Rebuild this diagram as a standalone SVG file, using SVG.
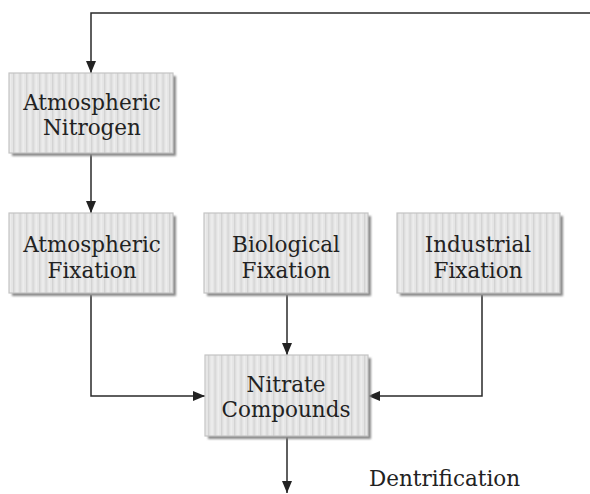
<svg xmlns="http://www.w3.org/2000/svg" width="590" height="494" viewBox="0 0 590 494">
<defs>
<pattern id="stripes" x="0" y="0" width="6.5" height="10" patternUnits="userSpaceOnUse">
<rect width="6.5" height="10" fill="#e5e5e5"/>
<rect x="0" width="1.3" height="10" fill="#d3d3d3"/>
<rect x="3.2" width="1.5" height="10" fill="#eeeeee"/>
</pattern>
<filter id="blur" x="-10%" y="-10%" width="120%" height="120%"><feGaussianBlur stdDeviation="1"/></filter>
<marker id="arr" viewBox="0 0 12 10" refX="12" refY="5" markerWidth="12" markerHeight="10" markerUnits="userSpaceOnUse" orient="auto">
<path d="M0,0 L12,5 L0,10 Z" fill="#222"/>
</marker>
</defs>
<style>
.shadow{fill:#8a8a8a;filter:url(#blur)}
.box{fill:url(#stripes);stroke:#c4c4c4;stroke-width:1.2}
.lbl{font-family:"DejaVu Serif",serif;font-size:21.5px;fill:#222;text-anchor:middle}
.conn{fill:none;stroke:#2a2a2a;stroke-width:1.5}
</style>
<rect width="590" height="494" fill="#fff"/>
<g id="connectors">
<path class="conn" d="M590,13 H91 V73" marker-end="url(#arr)"/>
<path class="conn" d="M91,153 V213" marker-end="url(#arr)"/>
<path class="conn" d="M91,295 V396 H205" marker-end="url(#arr)"/>
<path class="conn" d="M287,295 V355" marker-end="url(#arr)"/>
<path class="conn" d="M482,295 V396 H368" marker-end="url(#arr)"/>
<path class="conn" d="M287,436 V493" marker-end="url(#arr)"/>
</g>
<g id="atmospheric-nitrogen">
<rect class="shadow" x="12" y="76" width="164" height="80"/>
<rect class="box" x="9" y="73" width="164" height="80"/>
<text class="lbl" x="92" y="110">Atmospheric</text>
<text class="lbl" x="92" y="135">Nitrogen</text>
</g>
<g id="atmospheric-fixation">
<rect class="shadow" x="12" y="216" width="164" height="80"/>
<rect class="box" x="9" y="213" width="164" height="80"/>
<text class="lbl" x="92" y="252">Atmospheric</text>
<text class="lbl" x="92" y="278">Fixation</text>
</g>
<g id="biological-fixation">
<rect class="shadow" x="207" y="216" width="164" height="80"/>
<rect class="box" x="204" y="213" width="164" height="80"/>
<text class="lbl" x="286" y="252">Biological</text>
<text class="lbl" x="286" y="278">Fixation</text>
</g>
<g id="industrial-fixation">
<rect class="shadow" x="400" y="216" width="163" height="80"/>
<rect class="box" x="397" y="213" width="163" height="80"/>
<text class="lbl" x="478" y="252">Industrial</text>
<text class="lbl" x="478" y="278">Fixation</text>
</g>
<g id="nitrate-compounds">
<rect class="shadow" x="208" y="358" width="163" height="81"/>
<rect class="box" x="205" y="355" width="163" height="81"/>
<text class="lbl" x="286" y="392">Nitrate</text>
<text class="lbl" x="286" y="417">Compounds</text>
</g>
<g id="dentrification">
<text font-family="DejaVu Serif, serif" font-size="21.5" fill="#222" x="369" y="486">Dentrification</text>
</g>
</svg>
